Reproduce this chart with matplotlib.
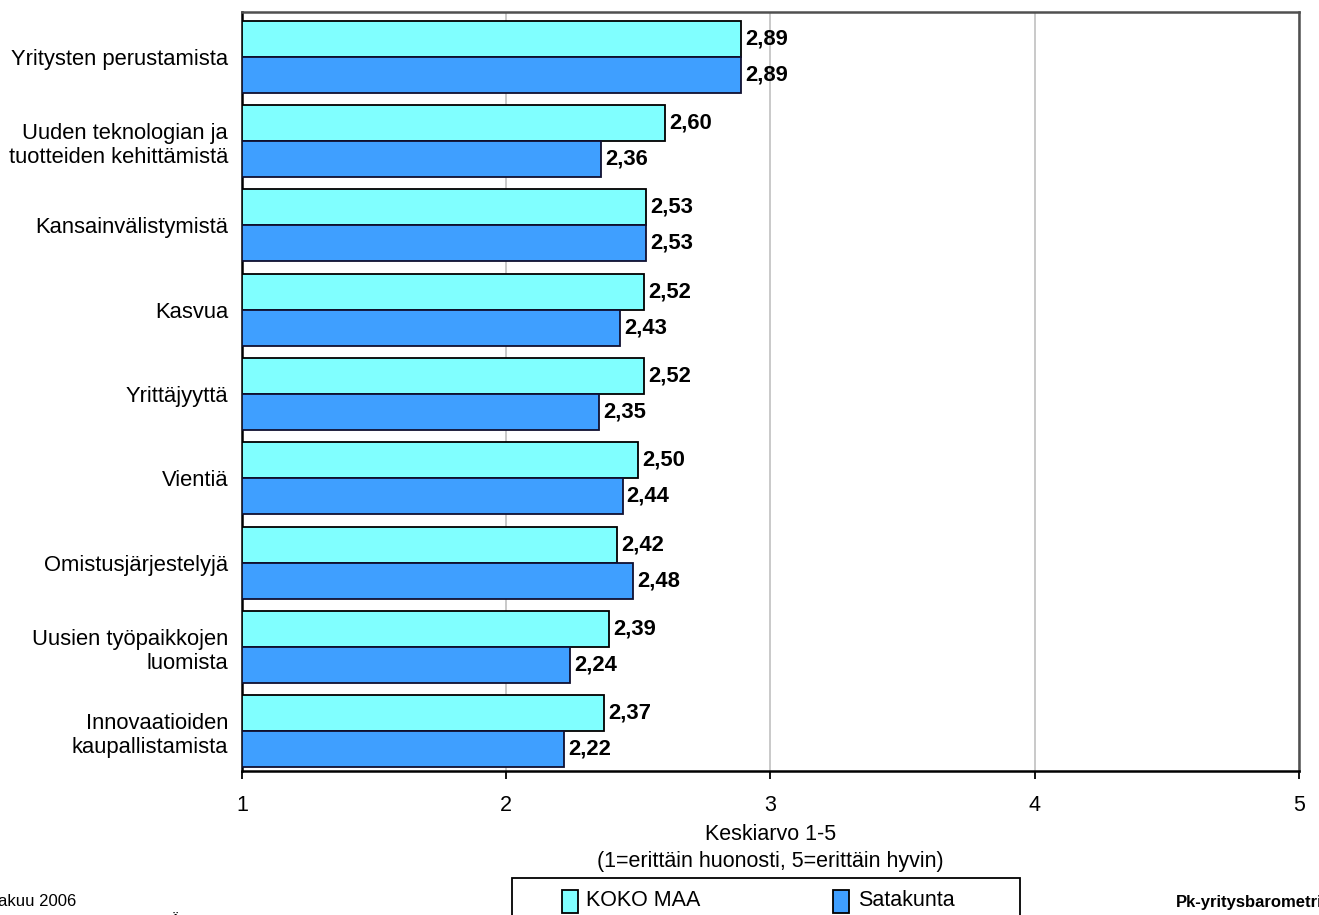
import matplotlib
matplotlib.use("Agg")
import matplotlib.pyplot as plt
from matplotlib.patches import Rectangle
import numpy as np

categories = [
    "Yritysten perustamista",
    "Uuden teknologian ja\ntuotteiden kehittämistä",
    "Kansainvälistymistä",
    "Kasvua",
    "Yrittäjyyttä",
    "Vientiä",
    "Omistusjärjestelyjä",
    "Uusien työpaikkojen\nluomista",
    "Innovaatioiden\nkaupallistamista",
]
koko_maa = [2.89, 2.60, 2.53, 2.52, 2.52, 2.50, 2.42, 2.39, 2.37]
satakunta = [2.89, 2.36, 2.53, 2.43, 2.35, 2.44, 2.48, 2.24, 2.22]
series_names = ["KOKO MAA", "Satakunta"]
xticks = [1, 2, 3, 4, 5]

plt.rcParams['font.family'] = ['Liberation Sans', 'DejaVu Sans']

W, H = 1319, 915
fig = plt.figure(figsize=(W / 100, H / 100), dpi=100)
ax = fig.add_axes([242 / W, 1 - 771 / H, (1299 - 242) / W, (771 - 12) / H])

c1 = "#80FFFF"
c2 = "#3F9FFF"
h = 0.427
y = np.arange(len(categories)) + 0.03
ax.barh(y - h / 2, [v - 1 for v in koko_maa], left=1, height=h, color=c1,
        edgecolor="black", linewidth=1.3, zorder=3)
ax.barh(y + h / 2, [v - 1 for v in satakunta], left=1, height=h, color=c2,
        edgecolor="#101030", linewidth=1.3, zorder=3)

fs = 15.5
for yi, v in zip(y - h / 2, koko_maa):
    ax.annotate(f"{v:.2f}".replace(".", ","), (v, yi), xytext=(3, 0),
                textcoords="offset points", va="center", ha="left",
                fontsize=fs + 0.3, fontweight="bold", zorder=4)
for yi, v in zip(y + h / 2, satakunta):
    ax.annotate(f"{v:.2f}".replace(".", ","), (v, yi), xytext=(3, 0),
                textcoords="offset points", va="center", ha="left",
                fontsize=fs + 0.3, fontweight="bold", zorder=4)

ax.set_xlim(1, 5)
ax.set_ylim(len(categories) - 0.5, -0.5)
ax.set_xticks(xticks)
ax.set_xticklabels([str(t) for t in xticks], fontsize=fs)
ax.set_yticks(y)
ax.set_yticklabels(categories, fontsize=fs + 0.3, ha="right", multialignment="right")
ax.tick_params(axis="y", length=0, pad=10)
ax.tick_params(axis="x", length=6, width=1.3, direction="out", pad=11)
ax.grid(axis="x", color="#c0c0c0", linewidth=1.2, zorder=0)
ax.set_axisbelow(True)

for s in ["left", "bottom"]:
    ax.spines[s].set_color("black")
    ax.spines[s].set_linewidth(1.8)
for s in ["top", "right"]:
    ax.spines[s].set_color("#505050")
    ax.spines[s].set_linewidth(1.8)

ax.set_xlabel("Keskiarvo 1-5\n(1=erittäin huonosti, 5=erittäin hyvin)",
              fontsize=fs, labelpad=6, linespacing=1.4)

# legend box (partly cut off at bottom)
fig.patches.append(Rectangle((512 / W, -0.02), (1020 - 512) / W, 0.02 + (915 - 878) / H,
                             transform=fig.transFigure, facecolor="white",
                             edgecolor="black", linewidth=1.3))
fig.patches.append(Rectangle((562 / W, 1 - 913 / H), 16 / W, 23 / H,
                             transform=fig.transFigure, facecolor=c1,
                             edgecolor="black", linewidth=1.3))
fig.text(586 / W, 1 - 901 / H, series_names[0], fontsize=fs, va="center", ha="left")
fig.patches.append(Rectangle((833 / W, 1 - 913 / H), 16 / W, 23 / H,
                             transform=fig.transFigure, facecolor=c2,
                             edgecolor="black", linewidth=1.3))
fig.text(858 / W, 1 - 901 / H, series_names[1], fontsize=fs, va="center", ha="left")

# footer texts (cut at edges, as in the reference)
fig.text(-2 / W, 1 - 902 / H, "akuu 2006", fontsize=12, ha="left", va="center")
fig.text(170 / W, 1 - 922 / H, "Ä", fontsize=12, ha="left", va="center")
fig.text(1176 / W, 1 - 903 / H, "Pk-yritysbarometri", fontsize=12,
         fontweight="bold", ha="left", va="center")

fig.savefig("out.png", dpi=100)
